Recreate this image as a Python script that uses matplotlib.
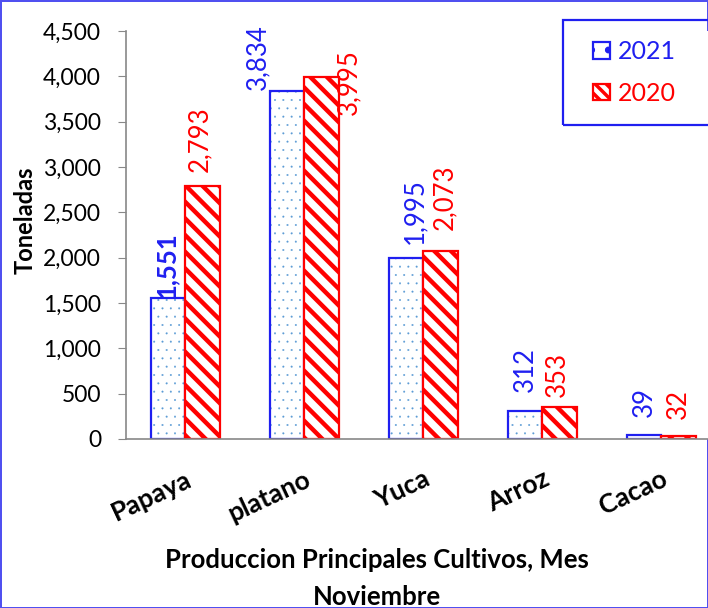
import numpy as np
import matplotlib
matplotlib.use('Agg')
import matplotlib.pyplot as plt
import matplotlib.transforms as mtransforms
from matplotlib.ticker import FuncFormatter
from matplotlib.patches import Patch, Rectangle

plt.rcParams['font.family'] = ['Lato', 'DejaVu Sans']

cultivos = ['Papaya', 'platano', 'Yuca', 'Arroz', 'Cacao']
prod_2021 = [1551, 3834, 1995, 312, 39]
prod_2020 = [2793, 3995, 2073, 353, 32]

BLUE = '#1F1FF0'
RED = '#FF0000'
DOT = '#5B9BD5'

fig = plt.figure(figsize=(7.08, 6.08), dpi=100)
fig.patch.set_edgecolor('#5050F0')
fig.patch.set_linewidth(2)
ax = fig.add_axes([0.178, 0.278, 0.84, 0.671])

x = np.arange(len(cultivos))
w = 0.29

# 2021: puntos azul claro + borde azul
with plt.rc_context({'hatch.linewidth': 0.2, 'hatch.color': DOT}):
    ax.bar(x - w / 2, prod_2021, w, color='white', edgecolor=DOT, hatch='..', linewidth=0)
ax.bar(x - w / 2, prod_2021, w, fill=False, edgecolor=BLUE, linewidth=1.6)

# 2020: franjas diagonales rojas
with plt.rc_context({'hatch.linewidth': 3.2, 'hatch.color': RED}):
    ax.bar(x + w / 2, prod_2020, w, color='white', edgecolor=RED, hatch='\\\\', linewidth=0)
ax.bar(x + w / 2, prod_2020, w, fill=False, edgecolor=RED, linewidth=1.6)

# etiquetas de datos (desplazamientos en puntos, como los deja Excel)
off_2021 = [(-1, 0), (-21, 1), (6.5, 10), (0, 13.5), (0, 13)]
off_2020 = [(-2, 10), (19.5, -4), (3, 15), (-1.5, 7), (0, 12)]
for i, v in enumerate(prod_2021):
    dx, dy = off_2021[i]
    ax.annotate(f'{v:,}', (x[i] - w / 2, v), xytext=(dx, dy), textcoords='offset points',
                rotation=90, ha='center', va='bottom', color=BLUE, fontsize=18.5,
                fontweight='bold' if i == 0 else 'normal')
for i, v in enumerate(prod_2020):
    dx, dy = off_2020[i]
    ax.annotate(f'{v:,}', (x[i] + w / 2, v), xytext=(dx, dy), textcoords='offset points',
                rotation=90, ha='center', va='center' if i == 1 else 'bottom',
                color=RED, fontsize=18.5)

ax.set_ylim(0, 4500)
ax.set_yticks(np.arange(0, 4501, 500))
ax.yaxis.set_major_formatter(FuncFormatter(lambda v, p: f'{int(v):,}'))
ax.set_xlim(-0.5, len(cultivos) - 0.5)
ax.set_xticks(x)
ax.set_xticklabels(cultivos, rotation=25, ha='right', va='top', rotation_mode='anchor',
                   fontweight='bold', fontsize=19)
shift = mtransforms.ScaledTranslation(-0.09, 0, fig.dpi_scale_trans)
for lbl in ax.get_xticklabels():
    lbl.set_transform(lbl.get_transform() + shift)
ax.tick_params(axis='x', length=0, pad=20)
ax.tick_params(axis='y', labelsize=16.5, color='#888888', length=6, pad=12)
for s in ['top', 'right']:
    ax.spines[s].set_visible(False)
for s in ['left', 'bottom']:
    ax.spines[s].set_color('#888888')
    ax.spines[s].set_linewidth(1.2)

ax.set_ylabel('Toneladas', fontweight='bold', fontsize=17)
ax.yaxis.set_label_coords(-0.15, 0.537)
ax.set_xlabel('Produccion Principales Cultivos, Mes\nNoviembre', fontweight='bold',
              fontsize=18.5, linespacing=1.65)
ax.xaxis.set_label_coords(0.422, -0.267)
ax.xaxis.label.set_va('top')

# leyenda: marco dibujado aparte (sale por el borde derecho como en el original)
fig.patches.append(Rectangle((0.795, 0.794), 0.3, 0.173, transform=fig.transFigure,
                             fill=False, edgecolor=BLUE, linewidth=1.6, clip_on=False))
with plt.rc_context({'hatch.linewidth': 2.5}):
    handles = [Patch(facecolor='white', edgecolor=BLUE, hatch='.', linewidth=1.6),
               Patch(facecolor='white', edgecolor=RED, hatch='\\\\\\', linewidth=1.6)]
    leg = fig.legend(handles, ['2021', '2020'], loc='center left',
                     bbox_to_anchor=(0.838, 0.881), fontsize=18, frameon=False,
                     handlelength=0.65, handleheight=0.65, handletextpad=0.35,
                     labelspacing=0.75, borderpad=0, borderaxespad=0)
leg.texts[0].set_color(BLUE)
leg.texts[1].set_color(RED)

fig.savefig('out.png', dpi=100)
